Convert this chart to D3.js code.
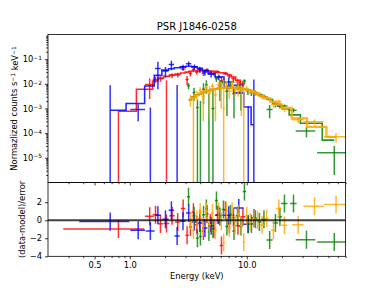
<!DOCTYPE html>
<html>
<head>
<meta charset="utf-8">
<script src="https://cdn.jsdelivr.net/npm/d3@7"></script>
<style>
  body { margin: 0; background: #fff; }
  text { font-family: "DejaVu Sans", sans-serif; }
</style>
</head>
<body>
<script>
'use strict';

// ---- data ----
// blue instrument (soft band)
const blueE     = [0.68, 1.18, 1.50, 1.74, 2.02, 2.27, 2.54, 2.85, 3.19, 3.57, 3.97, 4.39, 4.96, 5.77, 7.02, 8.55, 10.3, 11.5];
const blueDE    = [0.31, 0.17, 0.13, 0.10, 0.12, 0.12, 0.13, 0.15, 0.17, 0.19, 0.20, 0.22, 0.30, 0.43, 0.80, 0.85, 0.90, 0.60];
const blueFlux  = [-1e-3, 9e-4, -3e-3, 4.2e-2, 3.3e-2, 6.1e-2, -1e-2, 4.8e-2, 6.5e-2, 4.9e-2, 3.9e-2, 3.0e-2, 2.5e-2, 1.9e-2, 1.2e-2, 8.8e-3, -5e-4, -2e-3];
const blueErr   = [9.8e-3, 6e-4, 4.1e-3, 3.6e-2, 1.5e-2, 2.5e-2, 1.9e-2, 1.2e-2, 1.5e-2, 1.2e-2, 1e-2, 8e-3, 7e-3, 5e-3, 6e-3, 3e-3, 1.7e-3, 1.7e-2];
const blueModel = [8.5e-4, 1.6e-3, 8.2e-3, 2.2e-2, 3.6e-2, 4.1e-2, 4.5e-2, 4.9e-2, 5.2e-2, 4.9e-2, 4.3e-2, 3.5e-2, 2.6e-2, 1.9e-2, 7.1e-3, 4.3e-3, 1.15e-3, 2.2e-4];
const blueRes   = [-0.15, -1.1, -1.2, 0.55, 0.1, 1.1, -1.75, -0.1, 0.8, -0.2, -0.3, -0.85, -0.6, 0.55, 0.55, 1.35, -0.45, 0.25];

// red instrument (soft band)
const redE     = [0.80, 1.48, 1.66, 1.83, 2.06, 2.30, 2.57, 2.86, 3.09, 3.30, 3.50, 3.74, 3.98, 4.26, 4.57, 4.89, 5.24, 5.62, 6.08, 6.58, 7.11, 7.70, 8.41, 9.28];
const redDE    = [0.53, 0.13, 0.09, 0.09, 0.12, 0.12, 0.13, 0.13, 0.10, 0.10, 0.10, 0.12, 0.12, 0.14, 0.15, 0.16, 0.18, 0.19, 0.22, 0.25, 0.27, 0.30, 0.35, 0.45];
const redFlux  = [-4e-4, 9.4e-3, 1.5e-2, 1.6e-2, -2e-3, 2.2e-2, 2.3e-2, 4.0e-2, 1.5e-2, 2.6e-2, 3.8e-2, 3.0e-2, 3.5e-2, 2.7e-2, 3.7e-2, 3.0e-2, 2.6e-2, 3.1e-2, 1.3e-2, 2.7e-2, 2.1e-2, 1.6e-2, 1.2e-2, 1.0e-2];
const redErr   = [1.2e-3, 7e-3, 4e-3, 4e-3, 1.6e-2, 5e-3, 5e-3, 6e-3, 6e-3, 6e-3, 6e-3, 6e-3, 6e-3, 6e-3, 6e-3, 5e-3, 5e-3, 5e-3, 4.5e-3, 4e-3, 4e-3, 3.5e-3, 3.5e-3, 3e-3];
const redModel = [7.7e-4, 6e-3, 1.3e-2, 1.7e-2, 2.0e-2, 2.3e-2, 2.5e-2, 2.75e-2, 3.0e-2, 3.2e-2, 3.3e-2, 3.35e-2, 3.4e-2, 3.4e-2, 3.35e-2, 3.3e-2, 3.2e-2, 3.0e-2, 2.8e-2, 2.6e-2, 2.3e-2, 1.9e-2, 1.4e-2, 9e-3];
const redRes   = [-0.97, 0.45, 0.6, -0.4, -0.37, 0.5, -0.2, 1.3, -1.67, -0.75, 0.9, -0.5, 0.2, -1.2, 0.7, -0.3, -0.9, 0.6, -2.8, 1.1, -0.4, 0.3, -0.6, 0.4];

// green instrument (hard band)
const greenE     = [3.18, 3.54, 3.79, 4.02, 4.27, 4.52, 4.75, 5.14, 5.51, 5.90, 6.32, 6.77, 7.26, 7.78, 8.33, 8.92, 9.56, 10.24, 10.97, 11.87, 12.84, 14.03, 15.7, 17.6, 19.2, 21.0, 25.1, 32.4, 56];
const greenDE    = [0.09, 0.10, 0.10, 0.10, 0.12, 0.12, 0.12, 0.15, 0.17, 0.18, 0.20, 0.22, 0.24, 0.26, 0.28, 0.30, 0.32, 0.34, 0.38, 0.45, 0.50, 0.60, 0.95, 0.90, 0.80, 1.30, 1.60, 6.2, 16];
const greenFlux  = [8.4e-3, 4.5e-3, 1.1e-3, -5e-4, 6e-3, 9e-3, -1e-3, 1e-3, 1.6e-2, 8e-3, 1.2e-2, 5e-3, 9e-3, 4e-3, 8e-3, 5e-3, 1.3e-2, 5e-3, 4.5e-3, 4.4e-3, 3.6e-3, 3.1e-3, 9e-4, 1.5e-3, 1.35e-3, 1.25e-3, 8.5e-4, 1.23e-4, 1.6e-5];
const greenErr   = [2.4e-3, 2.5e-3, 1.2e-3, 2.5e-3, 4.5e-3, 5e-3, 5e-3, 5e-3, 4e-3, 6e-3, 4e-3, 4.5e-3, 3e-3, 3.6e-3, 2.5e-3, 4.2e-3, 2.5e-3, 1.5e-3, 1.3e-3, 1e-3, 7e-4, 6e-4, 5e-4, 4e-4, 3.5e-4, 2e-4, 1.6e-4, 5.5e-5, 1.4e-5];
const greenModel = [2.2e-3, 3.0e-3, 3.6e-3, 4.0e-3, 4.6e-3, 5.0e-3, 5.4e-3, 5.9e-3, 6.3e-3, 6.7e-3, 6.9e-3, 7.0e-3, 7.0e-3, 6.9e-3, 6.7e-3, 6.4e-3, 6.0e-3, 5.6e-3, 5.0e-3, 4.3e-3, 3.7e-3, 3.0e-3, 2.3e-3, 1.6e-3, 1.25e-3, 9.5e-4, 5.5e-4, 2.5e-4, 5.2e-5];
const greenRes   = [2.6, 0.5, -2.0, -1.8, 0.6, 1.3, -1.3, -1.0, 2.2, 0.4, 1.2, -0.7, 0.7, -1.2, 0.5, -0.7, 3.2, -0.4, -0.4, 0.1, -0.2, 0.1, -2.2, -0.3, 0.4, 1.85, 1.85, -2.15, -2.4];

// orange instrument (hard band)
const orangeE     = [3.3, 3.5, 3.75, 4.0, 4.25, 4.5, 4.8, 5.1, 5.4, 5.75, 6.05, 6.35, 6.7, 7.1, 7.5, 7.95, 8.45, 9.0, 9.42, 10.0, 10.7, 11.5, 12.4, 13.5, 14.8, 16.9, 18.8, 21.0, 27.5, 38, 58];
const orangeDE    = [0.10, 0.08, 0.12, 0.12, 0.12, 0.13, 0.15, 0.15, 0.15, 0.17, 0.15, 0.13, 0.17, 0.20, 0.20, 0.22, 0.25, 0.25, 0.17, 0.30, 0.35, 0.40, 0.45, 0.55, 0.65, 0.80, 1.0, 1.2, 3.1, 7.5, 12.5];
const orangeFlux  = [2.4e-3, -5e-4, 3.6e-3, 5.5e-3, 3.0e-3, 7e-3, 4.2e-3, 8e-3, 3.5e-3, 9e-3, 6.5e-3, 1e-3, 1.0e-2, 5.0e-3, 9.5e-3, 5.5e-3, 8e-3, 5e-3, -1e-3, 6.5e-3, 5.0e-3, 4.8e-3, 3.9e-3, 2.9e-3, 2.7e-3, 1.45e-3, 1.9e-3, 9.5e-4, 3.5e-4, 2.9e-4, 7.1e-5];
const orangeErr   = [1.2e-3, 3e-3, 1.5e-3, 1.8e-3, 2.7e-3, 2e-3, 3.8e-3, 2.5e-3, 3.2e-3, 2.5e-3, 5.5e-3, 1.3e-2, 3e-3, 2.5e-3, 5e-3, 2.2e-3, 5e-3, 4.5e-3, 8e-3, 1.5e-3, 1.2e-3, 1e-3, 8e-4, 6e-4, 5e-4, 4e-4, 3.5e-4, 2.5e-4, 1e-4, 7e-5, 3e-5];
const orangeModel = [2.4e-3, 2.8e-3, 3.4e-3, 3.9e-3, 4.5e-3, 5.0e-3, 5.4e-3, 5.9e-3, 6.2e-3, 6.6e-3, 6.8e-3, 6.9e-3, 7.0e-3, 7.0e-3, 6.9e-3, 6.8e-3, 6.6e-3, 6.3e-3, 6.1e-3, 5.8e-3, 5.2e-3, 4.6e-3, 3.9e-3, 3.2e-3, 2.6e-3, 1.9e-3, 1.45e-3, 1.05e-3, 4.0e-4, 1.8e-4, 7e-5];
const orangeRes   = [0.0, -1.1, 0.1, 0.9, -0.7, 1.0, -0.5, 0.8, -1.1, 1.0, -0.1, -2.5, 1.0, -0.8, 1.0, -0.6, 0.7, -0.6, -2.4, 0.5, -0.2, 0.2, 0.0, -0.5, 0.2, -1.1, 1.3, -0.55, -0.5, 1.55, 1.75];

// ticks
const xTicks = [0.5, 1, 10];
const xTickLabels = ['0.5', '1.0', '10.0'];
const yTopTicks = [1e-5, 1e-4, 1e-3, 1e-2, 1e-1];
const yResTicks = [-4, -2, 0, 2];

// ---- layout (matplotlib default subplot box) ----
const W = 384, H = 288;
const L = 48, R = 345.6, T = 34.56, MID = 182.4, B = 256.32;
const FONT = '"DejaVu Sans", sans-serif';

const svg = d3.select('body').append('svg')
  .attr('width', W)
  .attr('height', H);

const x = d3.scaleLog().domain([0.2, 70]).range([L, R]);
const yTop = d3.scaleLog().domain([1e-6, 1]).range([MID, T]);
const yRes = d3.scaleLinear().domain([-4, 4.2]).range([B, MID]);

const defs = svg.append('defs');
defs.append('clipPath').attr('id', 'clipTop')
  .append('rect').attr('x', L).attr('y', T).attr('width', R - L).attr('height', MID - T);
defs.append('clipPath').attr('id', 'clipRes')
  .append('rect').attr('x', L).attr('y', MID).attr('width', R - L).attr('height', B - MID);

const gTop = svg.append('g').attr('clip-path', 'url(#clipTop)');
const gRes = svg.append('g').attr('clip-path', 'url(#clipRes)');

const series = [
  {E: redE, dE: redDE, flux: redFlux, err: redErr, model: redModel, res: redRes, color: 'red', lw: 1.6},
  {E: blueE, dE: blueDE, flux: blueFlux, err: blueErr, model: blueModel, res: blueRes, color: 'blue', lw: 1.6},
  {E: greenE, dE: greenDE, flux: greenFlux, err: greenErr, model: greenModel, res: greenRes, color: 'green', lw: 1.6},
  {E: orangeE, dE: orangeDE, flux: orangeFlux, err: orangeErr, model: orangeModel, res: orangeRes, color: 'orange', lw: 2.3}
];

const TINY = 1e-9; // clipped lower end for non-positive values on log axis

function line(g, x1, y1, x2, y2, color, w) {
  g.append('line')
    .attr('x1', x1).attr('y1', y1).attr('x2', x2).attr('y2', y2)
    .attr('stroke', color)
    .attr('stroke-width', w)
    .attr('stroke-opacity', 0.8);
}

// step line like matplotlib step(where='mid') - midpoints in data space
function stepPoints(E, m) {
  const pts = [];
  for (let i = 0; i < E.length; i++) {
    const left = i === 0 ? E[0] : (E[i - 1] + E[i]) / 2;
    const right = i === E.length - 1 ? E[i] : (E[i] + E[i + 1]) / 2;
    pts.push([left, m[i]]);
    pts.push([right, m[i]]);
  }
  return pts;
}

const stepLine = d3.line()
  .x((d) => x(d[0]))
  .y((d) => yTop(d[1]));

series.forEach((s) => {
  // data crosses, top panel
  s.E.forEach((e, i) => {
    const xc = x(e);
    const f = s.flux[i];
    const lo = Math.max(f - s.err[i], TINY);
    const hi = f + s.err[i];
    if (hi > 0) line(gTop, xc, yTop(lo), xc, yTop(hi), s.color, 1.5);
    if (f > 0) line(gTop, x(e - s.dE[i]), yTop(f), x(e + s.dE[i]), yTop(f), s.color, 1.5);
  });
  // model
  gTop.append('path')
    .attr('d', stepLine(stepPoints(s.E, s.model)))
    .attr('fill', 'none')
    .attr('stroke', s.color)
    .attr('stroke-width', s.lw)
    .attr('stroke-opacity', 0.85);

  // residuals
  s.E.forEach((e, i) => {
    const xc = x(e);
    const r = s.res[i];
    line(gRes, xc, yRes(r - 1), xc, yRes(r + 1), s.color, 1.5);
    line(gRes, x(e - s.dE[i]), yRes(r), x(e + s.dE[i]), yRes(r), s.color, 1.5);
  });
});

// zero line
gRes.append('line')
  .attr('x1', L).attr('x2', R)
  .attr('y1', yRes(0)).attr('y2', yRes(0))
  .attr('stroke', '#000')
  .attr('stroke-width', 2)
  .attr('stroke-opacity', 0.75);

// ---- axes ----
function styleAxis(g) {
  g.select('.domain').remove();
  g.attr('font-family', null).attr('font-size', null);
  g.selectAll('.tick line').attr('stroke', '#000').attr('stroke-width', 0.8);
  g.selectAll('.tick text')
    .attr('fill', '#000')
    .style('font-family', FONT)
    .style('font-size', '8.33px');
  return g;
}

const xMinor = x.ticks().filter((d) => !xTicks.includes(d) && d > 0.2);

// bottom x axis
styleAxis(svg.append('g').attr('transform', 'translate(0,' + B + ')')
  .call(d3.axisBottom(x).tickValues(xTicks).tickFormat((d, i) => xTickLabels[i]).tickSize(3).tickPadding(3)));
styleAxis(svg.append('g').attr('transform', 'translate(0,' + B + ')')
  .call(d3.axisBottom(x).tickValues(xMinor).tickFormat('').tickSize(1.8)));
// shared x ticks under the top panel
styleAxis(svg.append('g').attr('transform', 'translate(0,' + MID + ')')
  .call(d3.axisBottom(x).tickValues(xTicks).tickFormat('').tickSize(3)));
styleAxis(svg.append('g').attr('transform', 'translate(0,' + MID + ')')
  .call(d3.axisBottom(x).tickValues(xMinor).tickFormat('').tickSize(1.8)));

// top y axis, log
const yMinor = yTop.ticks().filter((d) => {
  const l = Math.log10(d);
  return Math.abs(l - Math.round(l)) > 1e-6;
});
const yAxisTop = styleAxis(svg.append('g').attr('transform', 'translate(' + L + ',0)')
  .call(d3.axisLeft(yTop).tickValues(yTopTicks).tickSize(3).tickPadding(3)));
yAxisTop.selectAll('.tick text').each(function (d) {
  const t = d3.select(this);
  t.text(null);
  t.append('tspan').text('10');
  t.append('tspan')
    .attr('dy', '-0.42em')
    .style('font-size', '5.9px')
    .text('\u2212' + Math.round(-Math.log10(d)));
});
styleAxis(svg.append('g').attr('transform', 'translate(' + L + ',0)')
  .call(d3.axisLeft(yTop).tickValues(yMinor).tickFormat('').tickSize(1.8)));

// residual y axis
styleAxis(svg.append('g').attr('transform', 'translate(' + L + ',0)')
  .call(d3.axisLeft(yRes).tickValues(yResTicks)
    .tickFormat((d) => d < 0 ? '\u2212' + (-d) : String(d)).tickSize(3).tickPadding(3)));

// spines
[[T, MID], [MID, B]].forEach(([y0, y1]) => {
  svg.append('rect')
    .attr('x', L).attr('y', y0)
    .attr('width', R - L).attr('height', y1 - y0)
    .attr('fill', 'none')
    .attr('stroke', '#000')
    .attr('stroke-width', 0.8);
});

// ---- labels ----
svg.append('text')
  .attr('x', (L + R) / 2)
  .attr('y', 29.5)
  .attr('text-anchor', 'middle')
  .style('font-size', '10px')
  .text('PSR J1846-0258');

svg.append('text')
  .attr('x', (L + R) / 2)
  .attr('y', 279)
  .attr('text-anchor', 'middle')
  .style('font-size', '8.33px')
  .text('Energy (keV)');

const yl = svg.append('text')
  .attr('transform', 'translate(17,' + ((T + MID) / 2) + ') rotate(-90)')
  .attr('text-anchor', 'middle')
  .style('font-size', '8.33px');
yl.append('tspan').text('Normazlized counts s');
yl.append('tspan').attr('dy', '-0.42em').style('font-size', '5.9px').text('\u22121');
yl.append('tspan').attr('dy', '0.42em').text(' keV');
yl.append('tspan').attr('dy', '-0.42em').style('font-size', '5.9px').text('\u22121');

svg.append('text')
  .attr('transform', 'translate(24.5,' + ((MID + B) / 2) + ') rotate(-90)')
  .attr('text-anchor', 'middle')
  .style('font-size', '8.33px')
  .text('(data-model)/error');
</script>
</body>
</html>
